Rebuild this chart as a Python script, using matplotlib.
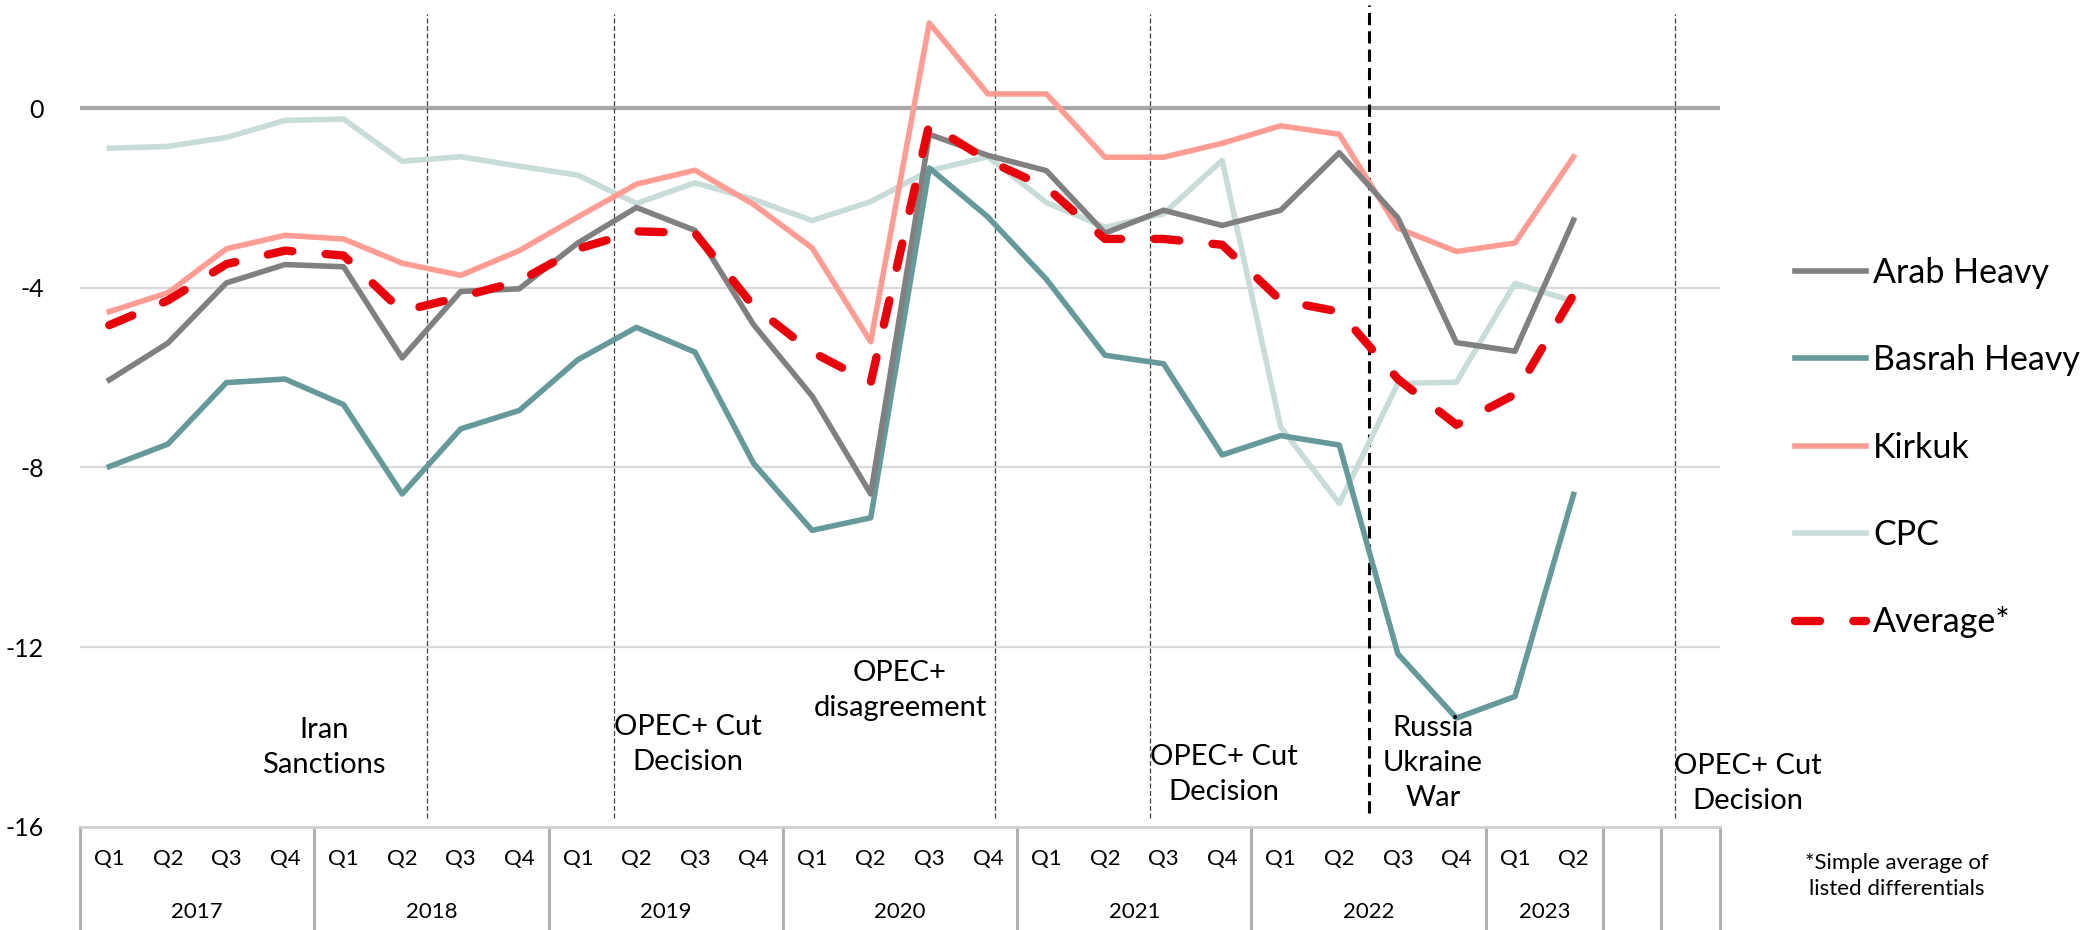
"""Crude oil differentials by quarter, with event markers."""

import matplotlib.pyplot as plt
import matplotlib.transforms as mtransforms

plt.rcParams['font.family'] = ['Lato', 'DejaVu Sans']

# 26 quarters (2017 Q1 - 2023 Q2) plus two empty slots on the right
quarters = ['Q1', 'Q2', 'Q3', 'Q4'] * 6 + ['Q1', 'Q2', '', '']
years = ['2017', '2018', '2019', '2020', '2021', '2022', '2023', '', '']
year_sizes = [4, 4, 4, 4, 4, 4, 2, 1, 1]

arab_heavy = [-6.05, -5.23, -3.89, -3.48, -3.53, -5.56, -4.08, -4.02, -3.00,
              -2.21, -2.72, -4.82, -6.41, -8.59, -0.58, -1.05, -1.39, -2.78,
              -2.27, -2.61, -2.27, -0.99, -2.44, -5.22, -5.41, -2.49]
basrah_heavy = [-7.98, -7.48, -6.11, -6.03, -6.60, -8.59, -7.14, -6.73, -5.60,
                -4.88, -5.43, -7.91, -9.40, -9.12, -1.33, -2.42, -3.81, -5.50,
                -5.69, -7.72, -7.29, -7.50, -12.15, -13.58, -13.10, -8.60]
kirkuk = [-4.53, -4.11, -3.13, -2.83, -2.91, -3.45, -3.72, -3.17, -2.42,
          -1.69, -1.38, -2.14, -3.11, -5.20, 1.90, 0.32, 0.32, -1.09,
          -1.09, -0.78, -0.39, -0.58, -2.67, -3.19, -3.00, -1.08]
cpc = [-0.89, -0.85, -0.65, -0.27, -0.24, -1.18, -1.08, -1.29, -1.49,
       -2.12, -1.66, -2.03, -2.50, -2.08, -1.39, -1.08, -2.10, -2.65,
       -2.35, -1.16, -7.10, -8.80, -6.13, -6.10, -3.90, -4.30]
average = [-4.83, -4.28, -3.47, -3.17, -3.28, -4.52, -4.20, -3.85, -3.13,
           -2.74, -2.78, -4.41, -5.43, -6.11, -0.35, -1.16, -1.76, -2.91,
           -2.91, -3.04, -4.28, -4.53, -6.03, -7.05, -6.37, -4.15]

events = ['Iran\nSanctions', 'OPEC+ Cut\nDecision', 'OPEC+\ndisagreement',
          'OPEC+ Cut\nDecision', 'Russia\nUkraine\nWar', 'OPEC+ Cut\nDecision']
event_lines = [5.43, 8.62, 15.12, 17.77, 21.5, 26.73]
event_text_x = [3.67, 9.88, 13.50, 19.03, 22.6, 27.97]
event_text_y = [-14.24, -14.16, -12.96, -14.84, -14.58, -15.03]

fig = plt.figure(figsize=(20.94, 9.30), dpi=100)
ax = fig.add_axes([80 / 2094, 1 - 826.7 / 930, 1640 / 2094, 821.7 / 930])

x = list(range(len(arab_heavy)))
ax.plot(x, cpc, color='#C8DCDA', lw=4, label='CPC', zorder=3)
ax.plot(x, kirkuk, color='#FF9C94', lw=4, label='Kirkuk', zorder=3)
ax.plot(x, basrah_heavy, color='#66999A', lw=4, label='Basrah Heavy', zorder=3)
ax.plot(x, arab_heavy, color='#808080', lw=4, label='Arab Heavy', zorder=4)
ax.plot(x, average, color='#E8000B', lw=6, dashes=(3, 4),
        dash_capstyle='round', label='Average*', zorder=5)

ax.set_xlim(-0.5, len(quarters) - 0.5)
ax.set_ylim(-16, 2.3)
ax.set_yticks([0, -4, -8, -12, -16])
ax.set_yticklabels(['0', '-4', '-8', '-12', '-16'])
ax.tick_params(axis='y', length=0, labelsize=18, pad=26)
ax.set_xticks([])
for side in ['top', 'right', 'left']:
    ax.spines[side].set_visible(False)
ax.spines['bottom'].set_color('#D0D0D0')
ax.spines['bottom'].set_linewidth(2)

for val in [-4, -8, -12]:
    ax.axhline(val, color='#D9D9D9', lw=1.6, zorder=1)
ax.axhline(0, color='#A6A6A6', lw=3, zorder=1)

# event markers
for i, xv in enumerate(event_lines):
    if i == 4:
        ax.plot([xv, xv], [-15.7, 2.3], color='black', lw=2.2,
                dashes=(4, 2), zorder=2)
    else:
        ax.plot([xv, xv], [-15.8, 2.1], color='#404040', lw=0.9,
                dashes=(4, 2), zorder=2)
for label, tx, ty in zip(events, event_text_x, event_text_y):
    ax.text(tx, ty, label, ha='center', va='center', fontsize=21,
            linespacing=1.43, clip_on=False)

# category table under the axis
trans = mtransforms.blended_transform_factory(ax.transData, ax.transAxes)
for i, q in enumerate(quarters):
    ax.text(i, -0.039, q, transform=trans, ha='center', va='center',
            fontsize=16)
start = -0.5
bounds = [start]
for name, size in zip(years, year_sizes):
    ax.text(start + size / 2, -0.104, name, transform=trans, ha='center',
            va='center', fontsize=16)
    start += size
    bounds.append(start)
for b in bounds:
    ax.plot([b, b], [0, -0.2], transform=trans, color='#B0B0B0', lw=2.2,
            clip_on=False)

# legend
order = ['Arab Heavy', 'Basrah Heavy', 'Kirkuk', 'CPC', 'Average*']
handles, labels = ax.get_legend_handles_labels()
lookup = dict(zip(labels, handles))
fig.legend([lookup[k] for k in order], order, loc='center left',
           bbox_to_anchor=(1795 / 2094, 1 - 447.5 / 930), frameon=False,
           fontsize=24.5, handlelength=2.09, handletextpad=0.2,
           labelspacing=1.63, borderpad=0, borderaxespad=0)

fig.text(1897 / 2094, 1 - 876 / 930, '*Simple average of\nlisted differentials',
         ha='center', va='center', fontsize=16, linespacing=1.43)

fig.savefig('out.png', dpi=100)
